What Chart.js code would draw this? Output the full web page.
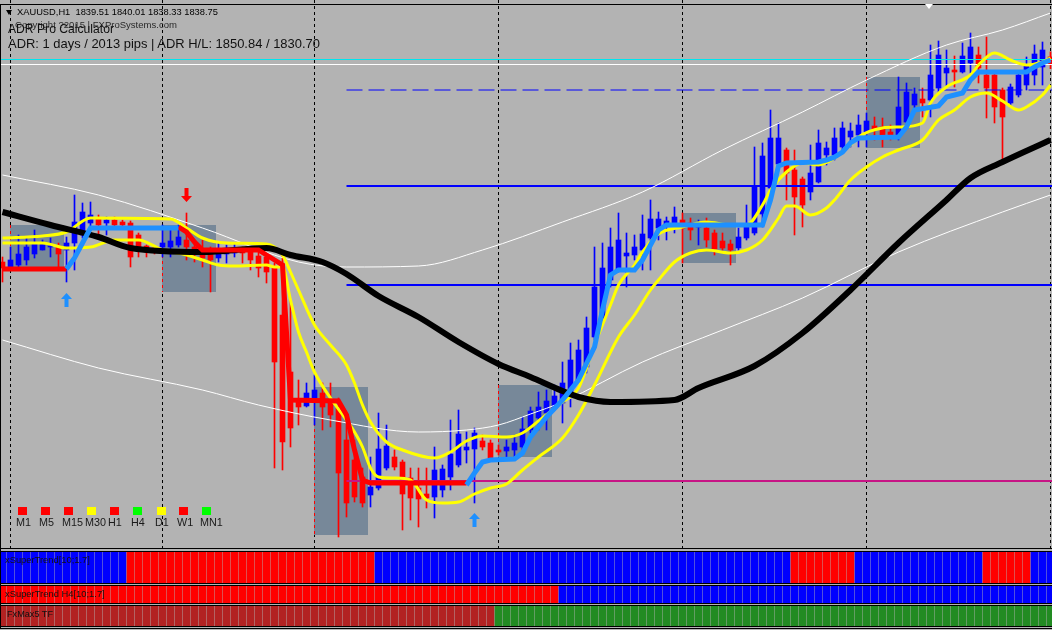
<!DOCTYPE html>
<html>
<head>
<meta charset="utf-8">
<title>XAUUSD,H1</title>
<script src="https://cdn.jsdelivr.net/npm/chart.js@4.4.1/dist/chart.umd.min.js"></script>
<style>
html,body{margin:0;padding:0;background:#b3b3b3;overflow:hidden}
#wrap{position:relative;width:1052px;height:630px;background:#b3b3b3;overflow:hidden}
#wrap canvas{position:absolute;left:0}
.hl{position:absolute;left:0;width:1052px;height:1px;background:#000}
.txt{position:absolute;white-space:pre;font-family:"Liberation Sans",Arial,sans-serif;line-height:1;color:#111}
.sq{position:absolute;width:9px;height:8px;top:507px}
</style>
</head>
<body>
<div id="wrap">
 <canvas id="main" width="1052" height="548" style="top:0"></canvas>
 <canvas id="p1" width="1052" height="31" style="top:552px"></canvas>
 <canvas id="p2" width="1052" height="17" style="top:586px"></canvas>
 <canvas id="p3" width="1052" height="20" style="top:606px"></canvas>
</div>
<script>
// ---------------- DATA (XAUUSD H1, bar index 0..131) ----------------
const opens = [1819.0,1818.5,1818.7,1819.2,1819.8,1820.2,1820.5,1820.6,1820.2,1820.9,1821.7,1822.9,1823.3,1822.9,1823.2,1823.0,1822.9,1821.7,1820.6,1820.4,
1820.5,1820.5,1820.7,1821.2,1820.5,1820.2,1819.9,1819.4,1819.8,1819.9,1820.2,1820.0,1819.6,1819.5,1818.5,1813.7,1808.0,1805.2,1804.6,1805.4,
1805.9,1805.2,1804.4,1801.2,1799.2,1797.5,1795.7,1796.4,1798.4,1799.5,1799.0,1797.4,1796.4,1795.8,1795.5,1796.2,1797.5,1798.7,1800.2,1800.3,
1801.1,1800.9,1800.2,1800.1,1800.2,1800.5,1802.2,1803.4,1803.9,1804.4,1804.9,1805.9,1807.2,1808.5,1811.5,1813.4,1817.2,1818.2,1819.6,1819.7,
1820.2,1821.4,1822.4,1822.6,1822.7,1823.2,1822.9,1822.5,1822.4,1821.9,1821.1,1820.8,1820.4,1821.4,1821.9,1823.8,1826.4,1828.8,1830.2,1828.2,
1827.3,1826.0,1827.0,1829.7,1829.7,1830.5,1831.5,1831.7,1832.0,1832.6,1832.5,1832.0,1831.7,1833.0,1834.7,1835.3,1835.2,1836.4,1837.9,1838.2,
1838.0,1838.9,1839.7,1837.7,1837.7,1836.2,1834.9,1835.7,1836.7,1837.7,1838.5,1839.51];
const highs = [1819.5,1820.5,1821.7,1821.4,1822.2,1821.2,1821.4,1820.9,1821.5,1825.7,1824.9,1825.0,1823.7,1823.5,1823.5,1823.2,1823.1,1821.9,1820.7,1820.6,
1822.7,1822.2,1822.7,1823.9,1821.0,1821.2,1820.5,1820.9,1820.7,1820.9,1820.5,1820.5,1820.5,1819.7,1818.9,1820.0,1815.2,1807.2,1806.9,1807.7,
1806.9,1806.9,1805.4,1803.9,1801.2,1798.4,1799.5,1803.9,1802.7,1800.2,1799.2,1798.4,1798.4,1798.4,1800.5,1798.7,1803.2,1804.2,1802.0,1802.4,
1801.7,1801.2,1800.7,1801.2,1801.7,1803.5,1804.5,1806.0,1806.2,1806.7,1809.0,1810.9,1811.2,1813.5,1820.5,1820.9,1822.4,1823.9,1821.9,1821.7,
1823.7,1825.2,1824.0,1823.5,1824.5,1823.9,1823.4,1823.2,1823.4,1822.2,1821.9,1821.2,1822.4,1824.7,1830.5,1830.9,1834.2,1832.9,1830.4,1830.2,
1827.5,1830.7,1832.2,1831.0,1832.4,1833.0,1832.9,1833.7,1833.9,1833.5,1833.4,1832.7,1837.5,1836.9,1836.4,1836.4,1840.7,1841.1,1840.2,1839.6,
1840.9,1841.9,1840.5,1841.5,1837.9,1836.4,1836.8,1837.9,1839.5,1840.7,1841.0,1840.01];
const lows = [1817.0,1818.4,1818.4,1818.7,1819.4,1820.2,1819.5,1818.2,1817.0,1818.2,1821.4,1822.5,1821.7,1821.7,1822.4,1822.4,1818.5,1819.5,1819.5,1819.8,
1819.5,1819.5,1820.5,1819.2,1819.0,1818.5,1816.0,1819.0,1818.9,1819.5,1818.9,1818.2,1817.5,1816.9,1798.4,1798.2,1800.5,1802.7,1804.5,1802.7,
1802.2,1802.5,1791.5,1793.5,1795.0,1794.5,1794.5,1796.2,1798.2,1798.2,1792.2,1793.2,1792.5,1794.4,1793.4,1795.5,1796.2,1798.5,1798.9,1794.9,
1800.2,1799.2,1799.7,1799.5,1799.2,1800.2,1801.9,1802.2,1802.2,1804.2,1802.9,1804.5,1807.0,1807.9,1811.2,1813.2,1816.5,1818.0,1816.5,1819.2,
1818.2,1818.2,1821.2,1821.2,1821.9,1818.9,1821.2,1820.7,1820.5,1819.7,1820.2,1818.7,1820.2,1821.2,1821.7,1822.5,1825.9,1828.4,1825.2,1821.7,
1822.5,1825.2,1826.9,1828.7,1829.2,1829.9,1830.5,1830.5,1830.5,1831.2,1830.5,1831.2,1831.2,1832.9,1834.2,1833.5,1833.5,1835.9,1836.5,1836.5,
1837.9,1837.9,1836.9,1833.4,1832.9,1829.0,1834.5,1835.5,1836.2,1836.7,1836.7,1838.33];
const closes = [1818.4,1819.2,1819.8,1820.5,1820.8,1820.9,1820.6,1819.8,1820.9,1823.0,1824.0,1823.7,1822.7,1823.2,1822.7,1822.7,1819.5,1820.5,1820.0,1820.1,
1820.9,1821.1,1821.5,1820.5,1820.0,1819.4,1819.2,1820.2,1820.2,1820.2,1819.9,1819.2,1818.4,1818.0,1809.0,1801.0,1802.4,1804.5,1805.9,1806.2,
1804.5,1803.7,1797.9,1794.9,1795.5,1794.9,1796.5,1800.3,1800.6,1798.5,1795.8,1795.4,1795.3,1795.4,1798.2,1798.3,1799.8,1801.8,1800.5,1801.9,
1800.5,1799.4,1800.0,1800.5,1800.9,1802.3,1804.1,1804.5,1805.1,1805.6,1806.9,1809.2,1810.2,1812.4,1816.5,1818.4,1820.5,1821.2,1819.9,1820.5,
1821.8,1823.3,1823.3,1823.1,1823.5,1822.4,1822.2,1822.7,1821.2,1820.3,1820.4,1820.2,1821.5,1822.8,1826.5,1829.6,1831.4,1831.4,1827.9,1825.5,
1824.7,1827.9,1830.9,1830.4,1831.4,1832.4,1832.1,1832.7,1833.1,1832.3,1831.7,1831.7,1834.5,1836.0,1835.8,1834.9,1837.7,1839.7,1838.4,1838.0,
1839.6,1840.5,1838.4,1836.4,1834.5,1833.5,1836.5,1837.7,1838.7,1839.8,1840.2,1838.75];

// indicator lines: [bar index, price]
const yellowUpper = [[0,1821.4],[5,1821.6],[8,1822.0],[11,1823.4],[21,1823.3],[23,1822.4],[25,1821.4],[28,1820.9],[33,1820.8],[34,1820.5],[35,1819.7],[36,1818.0],[37,1816.2],
[39,1812.7],[41,1810.7],[43,1808.7],[44,1806.9],[45,1804.7],[46,1803.0],[48,1801.0],[50,1800.2],[54,1799.4],[56,1800.0],[58,1801.1],[60,1801.6],[63,1801.5],[65,1801.9],
[67,1803.1],[70,1805.0],[72,1806.4],[74,1810.7],[76,1814.7],[77,1816.7],[79,1818.7],[80,1820.0],[82,1821.8],[85,1822.5],[88,1823.0],[91,1822.7],[93,1822.7],[95,1824.7],
[96,1826.2],[98,1828.0],[100,1828.9],[102,1828.7],[104,1829.4],[106,1830.7],[107,1831.5],[110,1832.4],[112,1832.5],[115,1832.9],[116,1834.9],[118,1836.5],[121,1837.7],
[122,1838.7],[124,1839.9],[126,1839.2],[128,1838.7],[130,1839.0],[131,1839.4]];
const yellowLower = [[0,1820.9],[5,1820.9],[8,1820.4],[11,1820.5],[14,1821.2],[17,1821.2],[20,1820.2],[23,1819.7],[25,1819.2],[27,1818.7],[29,1818.6],[33,1818.7],
[34,1818.5],[35,1818.5],[36,1815.2],[37,1812.0],[38,1810.0],[39,1808.0],[41,1805.4],[43,1803.2],[44,1802.0],[45,1800.5],[46,1798.4],[47,1797.5],[49,1797.4],[51,1797.2],
[53,1795.2],[55,1794.9],[57,1795.0],[59,1795.8],[61,1796.4],[63,1796.8],[65,1798.2],[67,1799.5],[70,1801.4],[72,1803.7],[74,1806.7],[77,1811.5],[79,1813.7],[81,1816.2],
[82,1817.2],[84,1819.0],[86,1819.9],[88,1820.2],[91,1819.9],[93,1820.2],[95,1821.2],[97,1823.4],[98,1824.6],[99,1824.6],[101,1823.7],[103,1824.4],[104,1825.2],
[106,1827.2],[108,1828.5],[110,1829.5],[112,1830.2],[115,1831.2],[117,1833.2],[119,1834.2],[121,1835.5],[123,1835.9],[125,1835.1],[127,1834.2],[128,1834.5],[130,1835.7],[131,1836.7]];
const movingAverage = [[0,1824.0],[6,1822.7],[12,1821.5],[16,1820.4],[25,1820.0],[33,1820.4],[36,1819.7],[40,1819.0],[43,1817.8],[47,1815.6],[52,1813.5],[57,1811.0],
[62,1808.8],[66,1807.5],[70,1806.1],[72,1805.5],[76,1805.0],[84,1805.2],[87,1806.4],[94,1808.6],[100,1811.9],[106,1816.2],[112,1820.9],[118,1825.2],[121,1827.4],[125,1829.0],[131,1831.2]];
const whiteUpper = [[0,1827.7],[12,1825.7],[25,1822.4],[37,1819.0],[43,1818.5],[52,1818.6],[60,1820.2],[70,1823.0],[80,1826.0],[90,1830.2],[100,1834.0],[108,1837.2],[118,1840.7],[125,1842.2],[131,1843.9]];
const whiteLower = [[0,1811.2],[12,1808.4],[25,1806.2],[32,1804.7],[41,1803.2],[52,1802.0],[58,1802.2],[62,1802.7],[66,1803.8],[70,1805.0],[80,1809.0],[90,1812.2],[100,1815.4],[112,1820.0],[125,1824.0],[131,1825.7]];
const superTrendDown = [
 [[0,1818.3],[8,1818.3]],
 [[22,1822.5],[23,1822.0],[24,1821.0],[25,1820.2],[32,1820.2],[33,1819.7],[35,1818.7],[36,1805.2],[42,1805.1],[43,1803.7],[44,1800.2],[45,1797.2],[46,1796.9],[58,1796.9]]
];
const superTrendUp = [
 [[8,1818.3],[9,1819.4],[10,1820.9],[11,1822.4],[22,1822.4]],
 [[58,1796.7],[59,1797.9],[60,1799.0],[61,1799.2],[64,1799.3],[65,1799.9],[66,1801.5],[68,1803.5],[70,1805.2],[72,1807.2],[74,1810.5],[75,1814.2],[76,1817.7],[77,1818.2],
  [79,1818.2],[80,1819.2],[81,1820.7],[82,1822.2],[83,1822.7],[95,1822.7],[96,1825.2],[97,1828.6],[98,1828.9],[102,1829.0],[103,1829.2],[104,1829.5],[105,1830.0],
  [106,1830.9],[107,1831.4],[112,1831.5],[113,1832.5],[114,1834.2],[117,1834.6],[118,1835.5],[120,1835.9],[121,1837.2],[122,1838.0],[128,1838.0],[129,1838.5],[130,1838.9],[131,1839.2]]
];
const arrowsUp = [[8,1815.2],[59,1793.2]];
const arrowsDown = [[23,1825.7]];
const daySeparators = [1,20,39,62,85,108,131];
const boxStart = [1,20,39,62,85,108];
const boxHigh = [1822.7,1822.7,1806.5,1806.7,1823.9,1837.5];
const boxLow  = [1818.2,1816.0,1791.7,1799.5,1818.9,1830.4];
const levelPrices = [1836.2,1826.6,1816.7,1797.1];
const levelStart = 43;
const bidPrice = 1838.75, askPrice = 1839.25;
const trendM1 = [[0,15,1],[16,46,-1],[47,98,1],[99,106,-1],[107,122,1],[123,128,-1],[129,131,1]];
const trendH4 = [[0,69,-1],[70,131,1]];
const trendFx = [[0,61,-1],[62,131,1]];
const tfNames  = ['M1','M5','M15','M30','H1','H4','D1','W1','MN1'];
const tfStates = ['dn','dn','dn','flat','dn','up','flat','dn','up'];

// ---------------- STYLE ----------------
const BLUE='#0000ff', RED='#ff0000', ST_BLUE='#1e90ff';
const XMIN=-0.3125, XMAX=131.1875, YMAX=1845.2, YMIN=1790.4;
const wrap=document.getElementById('wrap');
const common={responsive:false,animation:false,devicePixelRatio:1,events:[],layout:{padding:0},
  plugins:{legend:{display:false},tooltip:{enabled:false}}};
const pts = a => a.map(([x,y])=>({x,y}));

const candleColors = opens.map((o,i)=> closes[i]>=o ? BLUE : RED);
const datasets=[];
datasets.push({type:'bar',data:opens.map((o,i)=>({x:i,y:[lows[i],highs[i]]})),backgroundColor:candleColors,barThickness:1,grouped:false,order:9});
datasets.push({type:'bar',data:opens.map((o,i)=>({x:i,y:[Math.min(o,closes[i]),Math.max(o,closes[i])]})),backgroundColor:candleColors,barThickness:5,minBarLength:1,grouped:false,order:8});
const lvlStyles=[{c:BLUE,w:1,d:[16,6]},{c:BLUE,w:2,d:[]},{c:BLUE,w:2,d:[]},{c:'#c71585',w:2,d:[]}];
levelPrices.forEach((p,i)=>datasets.push({type:'line',data:[{x:levelStart,y:p},{x:XMAX,y:p}],borderColor:lvlStyles[i].c,borderWidth:lvlStyles[i].w,borderDash:lvlStyles[i].d,pointRadius:0,order:7}));
datasets.push({type:'line',data:[{x:XMIN,y:askPrice},{x:XMAX,y:askPrice}],borderColor:'#00e5ee',borderWidth:1,pointRadius:0,order:7});
datasets.push({type:'line',data:[{x:XMIN,y:bidPrice},{x:XMAX,y:bidPrice}],borderColor:'#ffffff',borderWidth:1,pointRadius:0,order:7});
[whiteUpper,whiteLower].forEach(a=>datasets.push({type:'line',data:pts(a),borderColor:'#ffffff',borderWidth:1,pointRadius:0,cubicInterpolationMode:'monotone',order:6}));
[yellowUpper,yellowLower].forEach(a=>datasets.push({type:'line',data:pts(a),borderColor:'#ffff00',borderWidth:3,pointRadius:0,cubicInterpolationMode:'monotone',order:5}));
datasets.push({type:'line',data:pts(movingAverage),borderColor:'#000000',borderWidth:6,pointRadius:0,cubicInterpolationMode:'monotone',order:4});
superTrendDown.forEach(a=>datasets.push({type:'line',data:pts(a),borderColor:RED,borderWidth:5,pointRadius:0,tension:0,order:2}));
superTrendUp.forEach(a=>datasets.push({type:'line',data:pts(a),borderColor:ST_BLUE,borderWidth:5,pointRadius:0,tension:0,order:1}));

function drawArrow(ctx,cx,cy,up,color){
  const s = up?1:-1;
  ctx.fillStyle=color; ctx.beginPath();
  ctx.moveTo(cx,cy-7*s); ctx.lineTo(cx+5.5,cy-1*s); ctx.lineTo(cx+2,cy-1*s); ctx.lineTo(cx+2,cy+7*s);
  ctx.lineTo(cx-2,cy+7*s); ctx.lineTo(cx-2,cy-1*s); ctx.lineTo(cx-5.5,cy-1*s); ctx.closePath(); ctx.fill();
}
const bgPlugin={id:'bg',
  beforeDatasetsDraw(chart){
    const {ctx,scales:{x,y}}=chart; ctx.save();
    ctx.lineWidth=1; ctx.strokeStyle='#000'; ctx.setLineDash([3,3]);
    daySeparators.forEach(k=>{const px=Math.floor(x.getPixelForValue(k))+0.5;ctx.beginPath();ctx.moveTo(px,0);ctx.lineTo(px,chart.height);ctx.stroke();});
    boxStart.forEach((k,i)=>{
      const x0=Math.floor(x.getPixelForValue(k)), x1=Math.floor(x.getPixelForValue(k+6.8));
      const y0=y.getPixelForValue(boxHigh[i]), y1=y.getPixelForValue(boxLow[i]);
      ctx.fillStyle='#778899'; ctx.fillRect(x0,y0,x1-x0,y1-y0);
      ctx.strokeStyle=RED; ctx.beginPath(); ctx.moveTo(x0+0.5,y0); ctx.lineTo(x0+0.5,y1); ctx.stroke();
    });
    ctx.restore();
  },
  afterDatasetsDraw(chart){
    const {ctx,scales:{x,y}}=chart; ctx.save();
    arrowsUp.forEach(([k,p])=>drawArrow(ctx,x.getPixelForValue(k),y.getPixelForValue(p),true,ST_BLUE));
    arrowsDown.forEach(([k,p])=>drawArrow(ctx,x.getPixelForValue(k),y.getPixelForValue(p),false,RED));
    ctx.restore();
  }};

new Chart(document.getElementById('main'),{type:'bar',data:{datasets},plugins:[bgPlugin],
  options:{...common,scales:{x:{type:'linear',min:XMIN,max:XMAX,display:false,offset:false},y:{type:'linear',min:YMIN,max:YMAX,display:false}}}});

function panel(id,runs,upColor,dnColor){
  const cols=[]; runs.forEach(([a,b,t])=>{for(let k=a;k<=b;k++) cols[k]= t>0?upColor:dnColor;});
  new Chart(document.getElementById(id),{type:'bar',
    data:{datasets:[{data:cols.map((c,k)=>({x:k,y:[0,1]})),backgroundColor:cols,barThickness:7,grouped:false}]},
    options:{...common,scales:{x:{type:'linear',min:XMIN,max:XMAX,display:false,offset:false},y:{min:0,max:1,display:false}}}});
}
panel('p1',trendM1,BLUE,RED);
panel('p2',trendH4,BLUE,RED);
panel('p3',trendFx,'#228b22','#b22222');

// ---------------- frame, texts ----------------
[4,548,551,583,585,603,605,626,628].forEach(t=>{const d=document.createElement('div');d.className='hl';d.style.top=t+'px';wrap.appendChild(d);});
{const d=document.createElement('div');d.style.cssText='position:absolute;left:0;top:4px;width:1px;height:625px;background:#000';wrap.appendChild(d);}
function tri(left,top,w,h,color){const d=document.createElement('div');
  d.style.cssText=`position:absolute;left:${left}px;top:${top}px;width:0;height:0;border-left:${w/2}px solid transparent;border-right:${w/2}px solid transparent;border-top:${h}px solid ${color}`;wrap.appendChild(d);}
tri(6,10,6,5,'#000'); tri(925,4,8,5,'#fff');
function addText(t,left,cy,width,color){
  const el=document.createElement('div'); el.className='txt'; el.textContent=t; el.style.fontSize='20px'; el.style.color=color; wrap.appendChild(el);
  const w=el.getBoundingClientRect().width; const fs=20*width/w; el.style.fontSize=fs.toFixed(2)+'px';
  el.style.left=left+'px'; el.style.top=(cy-0.49*fs).toFixed(1)+'px';
}
addText('XAUUSD,H1  1839.51 1840.01 1838.33 1838.75',17,13,201,'#000');
addText('Copyright ?2015 | FXProSystems.com',15,25,162,'#2a2a2a');
addText('ADR Pro Calculator',8,29,106,'#111');
addText('ADR: 1 days / 2013 pips | ADR H/L: 1850.84 / 1830.70',8,44,312,'#111');
addText('xSuperTrend[10;1.7]',5,561,85,'#111');
addText('xSuperTrend H4[10;1.7]',5,594,100,'#111');
addText('FxMax5 TF',7,614,46,'#111');
const sqLeft=[18,41,64,87,110,133,157,179,202];
const stateColor={up:'#00ff00',dn:'#ff0000',flat:'#ffff00'};
tfNames.forEach((n,i)=>{
  const s=document.createElement('div'); s.className='sq'; s.style.left=sqLeft[i]+'px'; s.style.background=stateColor[tfStates[i]]; wrap.appendChild(s);
  const el=document.createElement('div'); el.className='txt'; el.textContent=n; el.style.fontSize='10.8px'; el.style.color='#1a1a1a';
  el.style.left=(sqLeft[i]-2)+'px'; el.style.top=(522.5-0.49*10.8)+'px'; wrap.appendChild(el);
});
</script>
</body>
</html>
